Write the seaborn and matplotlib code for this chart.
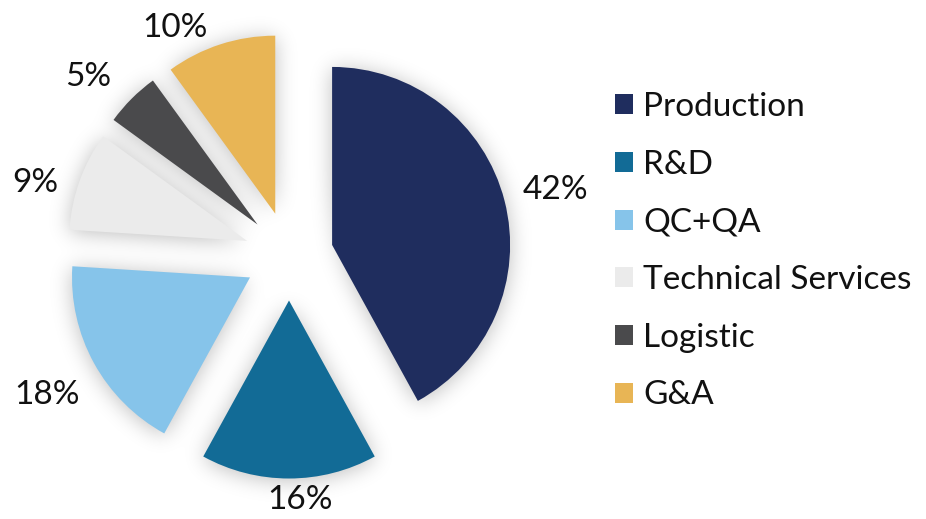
import matplotlib
matplotlib.use("Agg")
import matplotlib.pyplot as plt
import seaborn as sns
import numpy as np

# ---- data ----
categories = ["Production", "R&D", "QC+QA", "Technical Services", "Logistic", "G&A"]
values = [42, 16, 18, 9, 5, 10]
colors = ["#1F2D5E", "#126B96", "#86C4EA", "#EBEBEB", "#4A4A4C", "#E8B555"]

sns.set_theme(style="white")
plt.rcParams['font.family'] = ['Lato', 'DejaVu Sans']

W, H = 926, 519
R = 178.0              # pie radius in px
CX, CY = 289.0, 256.0  # pie centre in px (from top-left)
explode = [0.25] * len(values)
XLIM = (-CX / R, (W - CX) / R)
YLIM = (-(H - CY) / R, CY / R)


def setup(ax):
    ax.set_aspect("auto")
    ax.set_xlim(*XLIM)
    ax.set_ylim(*YLIM)
    ax.axis("off")


# ---- soft shadow: render the pie silhouette offscreen and blur it ----
f2 = plt.figure(figsize=(W / 100, H / 100), dpi=100)
a2 = f2.add_axes([0, 0, 1, 1])
a2.pie(values, explode=explode, startangle=90, counterclock=False,
       colors=["black"] * len(values), wedgeprops=dict(linewidth=0))
setup(a2)
f2.canvas.draw()
mask = 1.0 - np.asarray(f2.canvas.buffer_rgba())[..., 0].astype(float) / 255.0
plt.close(f2)

sigma = 10.5
k = np.arange(-36, 37)
g = np.exp(-k ** 2 / (2 * sigma ** 2))
g /= g.sum()
pad = 40
m = np.pad(mask, pad)
m = np.apply_along_axis(lambda r: np.convolve(r, g, mode="same"), 1, m)
m = np.apply_along_axis(lambda c: np.convolve(c, g, mode="same"), 0, m)
blur = m[pad:-pad, pad:-pad]
blur = np.roll(blur, 2, axis=0)

yy, xx = np.mgrid[0:H, 0:W]
glow = np.exp(-((xx - CX) ** 2 + (yy - CY + 4) ** 2) / (2 * 34.0 ** 2))
alpha = 0.26 * blur * (1 - glow)
shadow = np.zeros((H, W, 4))
shadow[..., 3] = alpha

# ---- main figure ----
fig = plt.figure(figsize=(W / 100, H / 100), dpi=100)
ax = fig.add_axes([0, 0, 1, 1])
ax.imshow(shadow, extent=(XLIM[0], XLIM[1], YLIM[0], YLIM[1]),
          origin="upper", interpolation="bilinear", zorder=0)

wedges, texts, autotexts = ax.pie(
    values, explode=explode, colors=colors, startangle=90, counterclock=False,
    autopct=lambda p: f"{p:.0f}%", pctdistance=1.3,
    wedgeprops=dict(linewidth=0, zorder=2),
    textprops=dict(fontsize=24, color="#111111"))
setup(ax)

# label positions (px, from top-left) as in the reference
label_px = [(555, 190), (300, 500), (47, 395), (35, 183), (88, 77), (175, 28)]
for t, (px, py) in zip(autotexts, label_px):
    t.set_position(((px - CX) / R, (CY - py) / R))
    t.set_ha("center")
    t.set_va("center")

fig.legend(wedges, categories, loc="upper left",
           bbox_to_anchor=(615 / W, 1 - 92 / H), frameon=False,
           fontsize=24, handlelength=0.55, handleheight=0.55,
           handletextpad=0.3, labelspacing=0.83, borderpad=0,
           borderaxespad=0, labelcolor="#111111")

fig.savefig("out.png", dpi=100, facecolor="white")
